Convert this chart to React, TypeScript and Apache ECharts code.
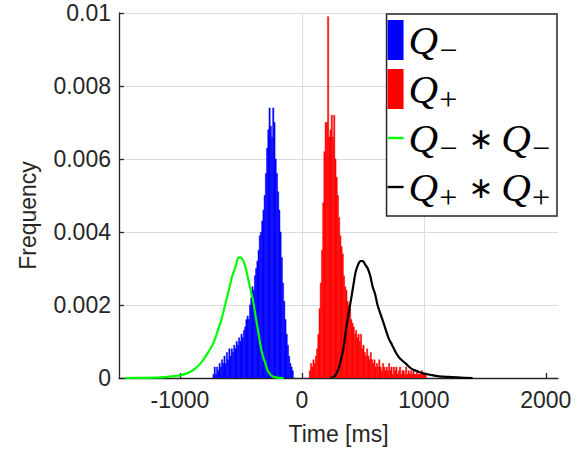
import React, { useEffect, useRef } from "react";
import * as echarts from "echarts";

// ---- Data ----
const BIN_WIDTH = 10; // ms

// Q− histogram: first bin starts at -730 ms
const qMinusStart = -730;
const qMinusValues = [
  0.0001, 0.0003, 0.0001, 0.0003, 0.0002, 0.0004, 0.0003, 0.0005, 0.0004, 0.0006,
  0.0004, 0.0007, 0.0005, 0.0008, 0.0006, 0.0008, 0.0007, 0.0009, 0.0008, 0.0010,
  0.0009, 0.0011, 0.0010, 0.0012, 0.0011, 0.0013, 0.0014, 0.0016, 0.0017, 0.0016,
  0.0020, 0.0022, 0.0025, 0.0024, 0.0028, 0.0030, 0.0032, 0.0035, 0.0039, 0.0040,
  0.0043, 0.0046, 0.0050, 0.0056, 0.0063, 0.0068, 0.0074, 0.0069, 0.0066, 0.0074,
  0.0070, 0.0060, 0.0056, 0.0051, 0.0046, 0.0040, 0.0033, 0.0026, 0.0021, 0.0016,
  0.0012, 0.0009, 0.0006, 0.0004, 0.0003, 0.0002,
];

// Q+ histogram: first bin starts at 60 ms
const qPlusStart = 60;
const qPlusValues = [
  0.0002, 0.0004, 0.0003, 0.0005, 0.0004, 0.0006, 0.0008, 0.0012, 0.0019, 0.0026,
  0.0035, 0.0048, 0.0062, 0.0070, 0.0070, 0.0099, 0.0066, 0.0068, 0.0072, 0.0066,
  0.0072, 0.0060, 0.0055, 0.0050, 0.0044, 0.0039, 0.0036, 0.0034, 0.0028, 0.0025,
  0.0024, 0.0021, 0.0020, 0.0019, 0.0016, 0.0015, 0.0014, 0.0012, 0.0013, 0.0011,
  0.0012, 0.0010, 0.0012, 0.0008, 0.0009, 0.0007, 0.0006, 0.0008, 0.0006, 0.0005,
  0.0007, 0.0005, 0.0004, 0.0005, 0.0003, 0.0004, 0.0003, 0.0005, 0.0003, 0.0002,
  0.0004, 0.0003, 0.0002, 0.0003, 0.0002, 0.0004, 0.0002, 0.0003, 0.0001, 0.0003,
  0.0002, 0.0003, 0.0001, 0.0002, 0.0003, 0.0001, 0.0002, 0.0002, 0.0001, 0.0003,
  0.0001, 0.0002, 0.0001, 0.0002, 0.0001, 0.0002, 0.0001, 0.0001, 0.0002, 0.0001,
  0.0001, 0.0001, 0.0002, 0.0001, 0.0001, 0.0001,
];

// Q− * Q− curve
const convMinusT = [
  -1450, -1300, -1200, -1100, -1000, -950, -900, -860, -820, -780, -750, -720, -690,
  -660, -630, -600, -570, -540, -520, -500, -480, -460, -440, -420, -400, -380, -360,
  -340, -320, -300, -280, -260, -240, -200, -150,
];
const convMinusV = [
  0, 0.000005, 0.00001, 0.00003, 0.00007, 0.00012, 0.0002, 0.0003, 0.00045, 0.00065,
  0.0008, 0.001, 0.0013, 0.0016, 0.002, 0.0024, 0.0028, 0.0031, 0.0033, 0.0033, 0.0032,
  0.003, 0.0027, 0.0024, 0.0021, 0.0017, 0.0013, 0.0009, 0.0006, 0.0004, 0.0002,
  0.0001, 0.00004, 0.00001, 0,
];

// Q+ * Q+ curve
const convPlusT = [
  230, 260, 280, 300, 320, 340, 360, 380, 400, 420, 440, 460, 480, 500, 520, 540, 560,
  580, 600, 620, 650, 680, 710, 740, 770, 800, 850, 900, 950, 1000, 1050, 1100, 1150,
  1200, 1300, 1400,
];
const convPlusV = [
  0, 0.00003, 0.0001, 0.00025, 0.0005, 0.0008, 0.0013, 0.0017, 0.0021, 0.0025, 0.0029,
  0.0031, 0.0032, 0.0032, 0.0031, 0.003, 0.0028, 0.0025, 0.0023, 0.002, 0.0017, 0.0014,
  0.0011, 0.0009, 0.0007, 0.00055, 0.0004, 0.00025, 0.00018, 0.00012, 0.00009, 0.00006,
  0.00004, 0.00003, 0.00001, 0,
];

const xTicks = [-1000, 0, 1000, 2000];

const seriesNames = ["Q−", "Q+", "Q−∗Q−", "Q+∗Q+"];
const legendRich: Record<string, string> = {
  "Q−": "{q|Q}{s|−}",
  "Q+": "{q|Q}{s|+}",
  "Q−∗Q−": "{q|Q}{s|−}{op|∗}{q|Q}{s|−}",
  "Q+∗Q+": "{q|Q}{s|+}{op|∗}{q|Q}{s|+}",
};

const SANS = "'Liberation Sans', Arial, Helvetica, sans-serif";
const SERIF = "'Liberation Serif', 'DejaVu Serif', serif";
const AXIS_COLOR = "#262626";
const GRID_COLOR = "#dcdcdc";
const LINE_ICON = "path://M0,0H16V2.4H0Z";

function histData(start: number, values: number[]) {
  return values.map((v, i) => [start + i * BIN_WIDTH, start + (i + 1) * BIN_WIDTH, v]);
}

function histRender(color: string) {
  return (params: any, api: any) => {
    const p0 = api.coord([api.value(0), api.value(2)]);
    const p1 = api.coord([api.value(1), 0]);
    return {
      type: "rect",
      shape: { x: p0[0], y: p0[1], width: p1[0] - p0[0], height: p1[1] - p0[1] },
      style: { fill: color, stroke: color, lineWidth: 0.5 },
    };
  };
}

export default function App() {
  const ref = useRef<HTMLDivElement>(null);

  useEffect(() => {
    if (!ref.current) return;
    const chart = echarts.init(ref.current, null, { renderer: "svg" });
    const option: any = {
      animation: false,
      backgroundColor: "#ffffff",
      grid: { left: 119, right: 27, top: 13, bottom: 87, containLabel: false },
      legend: {
        orient: "vertical",
        right: 28,
        top: 14,
        itemWidth: 16,
        itemHeight: 40,
        itemGap: -3,
        padding: [0, 7, 3, 1],
        borderColor: AXIS_COLOR,
        borderWidth: 1.5,
        backgroundColor: "#ffffff",
        selectedMode: false,
        data: [
          { name: seriesNames[0], icon: "rect" },
          { name: seriesNames[1], icon: "rect" },
          { name: seriesNames[2], icon: LINE_ICON },
          { name: seriesNames[3], icon: LINE_ICON },
        ],
        formatter: (name: string) => legendRich[name] || name,
        textStyle: {
          color: "#000",
          lineHeight: 40,
          rich: {
            q: { fontFamily: SERIF, fontStyle: "italic", fontSize: 41, lineHeight: 40, color: "#000" },
            s: { fontFamily: SERIF, fontSize: 32, lineHeight: 20, padding: [20, 0, 0, 1], color: "#000" },
            op: { fontFamily: "'DejaVu Sans', sans-serif", fontSize: 30, lineHeight: 40, padding: [0, 8, 0, 11], color: "#000" },
          },
        },
      },
      xAxis: {
        type: "value",
        min: -1500,
        max: 2100,
        name: "Time [ms]",
        nameLocation: "middle",
        nameGap: 44,
        nameTextStyle: { fontFamily: SANS, fontSize: 23, color: AXIS_COLOR },
        axisLine: { onZero: false, lineStyle: { color: AXIS_COLOR, width: 1.3 } },
        axisTick: { show: true, inside: true, length: 5, customValues: xTicks, lineStyle: { color: AXIS_COLOR, width: 1.3 } },
        axisLabel: {
          customValues: xTicks,
          fontFamily: SANS,
          fontSize: 23,
          color: AXIS_COLOR,
          margin: 10,
          formatter: (v: number) => String(v),
        },
        splitLine: { show: true, showMinLine: false, showMaxLine: false, lineStyle: { color: GRID_COLOR, width: 1 } },
      },
      yAxis: {
        type: "value",
        min: 0,
        max: 0.01,
        interval: 0.002,
        name: "Frequency",
        nameLocation: "middle",
        nameGap: 80,
        nameTextStyle: { fontFamily: SANS, fontSize: 23, color: AXIS_COLOR, padding: [0, 40, 0, 0] },
        axisLine: { show: true, onZero: false, lineStyle: { color: AXIS_COLOR, width: 1.3 } },
        axisTick: { show: true, inside: true, length: 5, lineStyle: { color: AXIS_COLOR, width: 1.3 } },
        axisLabel: { fontFamily: SANS, fontSize: 23, color: AXIS_COLOR, margin: 8 },
        splitLine: { show: true, lineStyle: { color: GRID_COLOR, width: 1 } },
      },
      series: [
        {
          name: seriesNames[0],
          type: "custom",
          renderItem: histRender("#0000ff"),
          itemStyle: { color: "#0000ff" },
          encode: { x: [0, 1], y: 2 },
          data: histData(qMinusStart, qMinusValues),
          clip: true,
          z: 2,
        },
        {
          name: seriesNames[1],
          type: "custom",
          renderItem: histRender("#ff0000"),
          itemStyle: { color: "#ff0000" },
          encode: { x: [0, 1], y: 2 },
          data: histData(qPlusStart, qPlusValues),
          clip: true,
          z: 2,
        },
        {
          name: seriesNames[2],
          type: "line",
          symbol: "none",
          smooth: 0.3,
          data: convMinusT.map((t, i) => [t, convMinusV[i]]),
          itemStyle: { color: "#00ff00" },
          lineStyle: { color: "#00ff00", width: 2.2 },
          z: 3,
        },
        {
          name: seriesNames[3],
          type: "line",
          symbol: "none",
          smooth: 0.3,
          data: convPlusT.map((t, i) => [t, convPlusV[i]]),
          itemStyle: { color: "#000000" },
          lineStyle: { color: "#000000", width: 2.2 },
          z: 3,
        },
      ],
    };
    chart.setOption(option);
    return () => chart.dispose();
  }, []);

  return (
    <div
      ref={ref}
      style={{ position: "fixed", left: 0, top: 0, width: 585, height: 465, background: "#fff" }}
    />
  );
}
